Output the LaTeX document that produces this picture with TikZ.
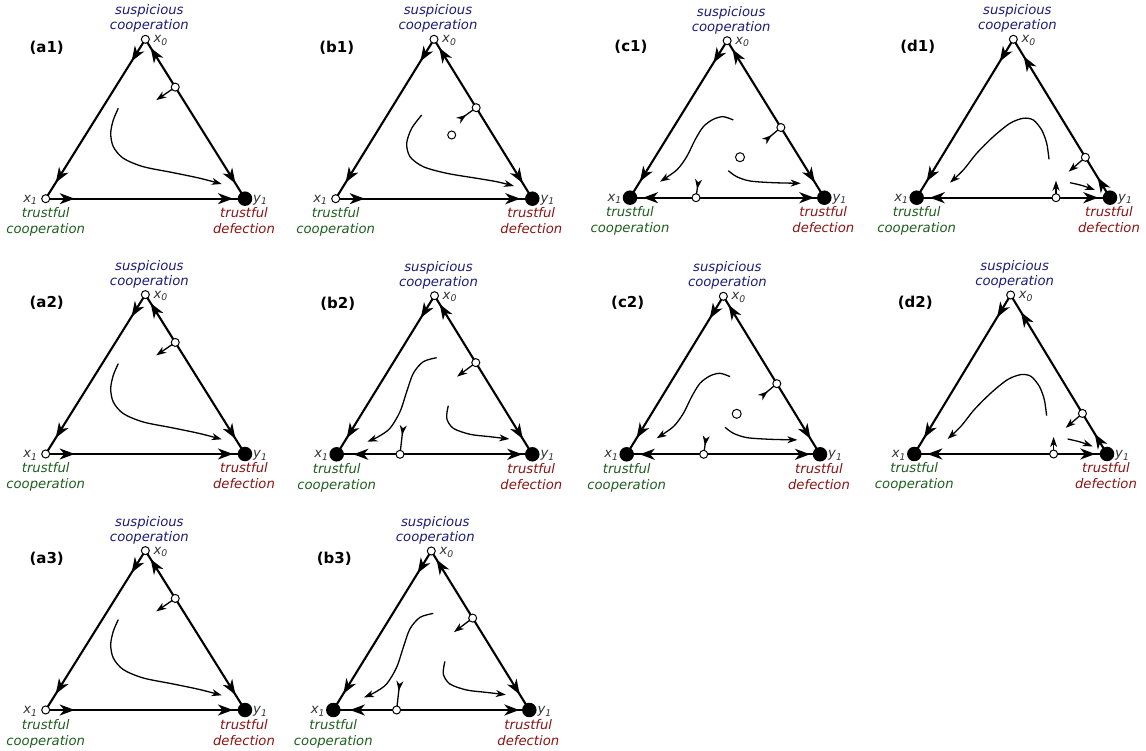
\documentclass[tikz,border=0pt]{standalone}
\usepackage{fontspec}
\setmainfont{DejaVu Sans}
\usetikzlibrary{arrows.meta,calc,decorations.markings}

\definecolor{suscol}{RGB}{28,28,120}
\definecolor{coopcol}{RGB}{30,95,30}
\definecolor{defcol}{RGB}{140,20,20}

\tikzset{
  Big/.tip={Stealth[length=15pt,width=11pt,inset=4.5pt]},
  Small/.tip={Stealth[length=10pt,width=7pt,inset=3pt]},
  SmallRev/.tip={Stealth[length=10pt,width=7pt,inset=3pt,reversed]},
  rim/.style={line width=2.1pt},
  onemark/.style={postaction={decorate,decoration={markings,
      mark=at position #1 with {\arrow{Big}}}}},
  twomarks/.style 2 args={postaction={decorate,decoration={markings,
      mark=at position #1 with {\arrow{Big}},
      mark=at position #2 with {\arrow{Big}}}}},
  outarrow/.style={line width=1.3pt,-{Small}},
  inarrow/.style={line width=1.3pt,-{SmallRev}},
  traj/.style={line width=1.3pt,-{Small}},
  unst/.style={circle,draw,fill=white,line width=1pt,minimum size=8pt,inner sep=0pt},
  stab/.style={circle,fill=black,minimum size=14.5pt,inner sep=0pt},
  txt/.style={inner sep=0pt,font=\fontsize{13.2}{15}\selectfont\itshape,anchor=base},
  tag/.style={inner sep=0pt,font=\fontsize{15}{17}\selectfont\bfseries},
  vlab/.style={inner sep=0pt,font=\fontsize{13.2}{15}\selectfont\itshape,text=black!80},
}

% simplex frame: corners, corner names and panel tag (#1 width, #2 height, #3 tag)
\newcommand\basetri[3]{%
  \coordinate (X1) at (0,0);
  \coordinate (Y1) at (#1,0);
  \coordinate (X0) at ({#1/2},#2);
  \node[tag] (tag) at (1,151) {#3};
  \node[txt,text=suscol] (sus) at ($(X0)+(4,24.3)$) {suspicious};
  \node[txt,text=suscol] (susc) at ($(X0)+(4,9.3)$) {cooperation};
  \node[txt,text=coopcol] (tc) at (0,-19) {trustful};
  \node[txt,text=coopcol] (tcc) at (0,-35) {cooperation};
  \node[txt,text=defcol] (td) at (#1-1,-19) {trustful};
  \node[txt,text=defcol] (tdd) at (#1-1,-35) {defection};
  \node[vlab,anchor=base west] (lx0) at ($(X0)+(8,-3.5)$) {x\textsubscript{0}};
  \node[vlab,anchor=base east] (lx1) at (-8,-3.5) {x\textsubscript{1}};
  \node[vlab,anchor=base west] (ly1) at (#1+8,-3.5) {y\textsubscript{1}};
  \draw[rim,twomarks={26pt}{-19pt}] (X0) -- (X1);
}

% only y1 stable
\newcommand\panelA[3]{%
  \basetri{#1}{#2}{#3}
  \coordinate (S) at ($(Y1)!0.70!(X0)$);
  \draw[rim,onemark={-10pt}] (S) -- (X0);
  \draw[rim,onemark={-18pt}] (S) -- (Y1);
  \draw[rim,twomarks={29pt}{-12pt}] (X1) -- (Y1);
  \coordinate (Sout) at ($(S)+(-19,-13)$);
  \draw[outarrow] (S) -- (Sout);
  \draw[traj] plot[smooth] coordinates {(72.6,90.4) (67.6,78.7) (65,65.4) (67.6,52)
     (77.6,40.4) (97.6,32) (127.6,26) (154.3,20.4) (176,14.7)};
  \node[unst] (p0) at (X0) {};
  \node[unst] (p1) at (X1) {};
  \node[stab] (q1) at (Y1) {};
  \node[unst] (s) at (S) {};
}

% y1 stable, interior source
\newcommand\panelB[3]{%
  \basetri{#1}{#2}{#3}
  \coordinate (S) at ($(Y1)!0.571!(X0)$);
  \draw[rim,onemark={-10pt}] (S) -- (X0);
  \draw[rim,onemark={-18pt}] (S) -- (Y1);
  \draw[rim,twomarks={29pt}{-12pt}] (X1) -- (Y1);
  \coordinate (Sin) at ($(S)+(-18,-13)$);
  \draw[inarrow] (S) -- (Sin);
  \draw[traj] plot[smooth] coordinates {(86,83.7) (76,70.4) (71,55.4) (74.3,42)
     (87.6,32) (111,25.4) (141,20.4) (161,17) (178.3,12.7)};
  \node[unst] (p0) at (X0) {};
  \node[unst] (p1) at (X1) {};
  \node[stab] (q1) at (Y1) {};
  \node[unst] (s) at (S) {};
  \node[unst] (c) at (116,63.7) {};
}

% x1 and y1 stable, no interior point
\newcommand\panelBB[3]{%
  \basetri{#1}{#2}{#3}
  \coordinate (S) at ($(Y1)!0.578!(X0)$);
  \coordinate (B) at (63.3,0);
  \draw[rim,onemark={-10pt}] (S) -- (X0);
  \draw[rim,onemark={-18pt}] (S) -- (Y1);
  \draw[rim,onemark={-16.6pt}] (B) -- (X1);
  \draw[rim,onemark={-10pt}] (B) -- (Y1);
  \coordinate (Sout) at ($(S)+(-18.7,-14)$);
  \draw[outarrow] (S) -- (Sout);
  \coordinate (Bin) at ($(B)+(3.3,29)$);
  \draw[inarrow] (B) -- (Bin);
  \draw[traj] plot[smooth] coordinates {(100,96.6) (86.6,92.6) (76.6,81) (70,62.6)
     (63.3,42.6) (53.3,26) (41.6,17.6) (30.6,12.6)};
  \draw[traj] plot[smooth] coordinates {(111.6,48.6) (110,36) (116.6,26) (133.3,20)
     (153.3,17.6) (172.6,15.3)};
  \node[unst] (p0) at (X0) {};
  \node[stab] (p1) at (X1) {};
  \node[stab] (q1) at (Y1) {};
  \node[unst] (s) at (S) {};
  \node[unst] (b) at (B) {};
}

% x1 and y1 stable, interior source (#4: bottom saddle position)
\newcommand\panelC[4]{%
  \basetri{#1}{#2}{#3}
  \coordinate (S) at ($(Y1)!0.447!(X0)$);
  \coordinate (B) at (#4,0);
  \draw[rim,onemark={-10pt}] (S) -- (X0);
  \draw[rim,onemark={-18pt}] (S) -- (Y1);
  \draw[rim,onemark={-13pt}] (B) -- (X1);
  \draw[rim,onemark={-10pt}] (B) -- (Y1);
  \coordinate (Sin) at ($(S)+(-16.7,-14)$);
  \draw[inarrow] (S) -- (Sin);
  \coordinate (Bin) at ($(B)+(2.6,18.4)$);
  \draw[inarrow] (B) -- (Bin);
  \draw[traj] plot[smooth] coordinates {(103.3,77.7) (93.3,81) (83.3,78.4) (73.3,71)
     (65,57.7) (56.7,41) (46.7,27.7) (30,16)};
  \draw[traj] plot[smooth] coordinates {(98.3,27) (106.7,21) (120,16.7) (143.3,15)
     (170.7,14.4)};
  \node[unst] (p0) at (X0) {};
  \node[stab] (p1) at (X1) {};
  \node[stab] (q1) at (Y1) {};
  \node[unst] (s) at (S) {};
  \node[unst] (b) at (B) {};
  \node[unst,minimum size=9pt] (c) at (110,40.5) {};
}

% x1 and y1 stable, edge points near y1
\newcommand\panelD[3]{%
  \basetri{#1}{#2}{#3}
  \coordinate (S) at ($(Y1)!0.255!(X0)$);
  \coordinate (B) at (139.3,0);
  \draw[rim,onemark={-20pt}] (S) -- (X0);
  \draw[rim,onemark={23.6pt}] (Y1) -- (S);
  \draw[rim,onemark={-13pt}] (B) -- (X1);
  \draw[rim,onemark={-11.7pt}] (B) -- (Y1);
  \coordinate (Sout) at ($(S)+(-16.7,-14.4)$);
  \draw[outarrow] (S) -- (Sout);
  \coordinate (Bout) at ($(B)+(0,17)$);
  \draw[outarrow] (B) -- (Bout);
  \draw[traj] plot[smooth] coordinates {(132.3,38.4) (130,54.4) (125,67.7) (116.6,77.7)
     (106.6,79.4) (93.3,74.4) (76.6,61) (60,44.4) (46.6,27.7) (33.3,15)};
  \draw[traj] plot[smooth] coordinates {(153.3,15) (165.3,12.2) (178.3,7.7)};
  \node[unst] (p0) at (X0) {};
  \node[stab] (p1) at (X1) {};
  \node[stab] (q1) at (Y1) {};
  \node[unst] (s) at (S) {};
  \node[unst] (b) at (B) {};
}

\begin{document}
\begin{tikzpicture}[x=1pt,y=1pt]
  \useasboundingbox (0,0) rectangle (1146,750);
  \fill[white] (0,0) rectangle (1146,750);

  \begin{scope}[shift={(45.7,551.3)},name prefix=a1-] \panelA{199.3}{159.4}{(a1)} \end{scope}
  \begin{scope}[shift={(335.7,551.3)},name prefix=b1-] \panelB{196.6}{159.4}{(b1)} \end{scope}
  \begin{scope}[shift={(630,552.3)},name prefix=c1-] \panelC{194.3}{157}{(c1)}{66} \end{scope}
  \begin{scope}[shift={(916.7,552.3)},name prefix=d1-] \panelD{193.3}{158.4}{(d1)} \end{scope}

  \begin{scope}[shift={(45.7,296)},name prefix=a2-] \panelA{199.3}{159.4}{(a2)} \end{scope}
  \begin{scope}[shift={(336.7,295.7)},name prefix=b2-] \panelBB{195.6}{158.6}{(b2)} \end{scope}
  \begin{scope}[shift={(626.7,295.7)},name prefix=c2-] \panelC{193.3}{158}{(c2)}{77} \end{scope}
  \begin{scope}[shift={(914.3,296)},name prefix=d2-] \panelD{192.7}{159}{(d2)} \end{scope}

  \begin{scope}[shift={(45.7,40)},name prefix=a3-] \panelA{199.3}{159.4}{(a3)} \end{scope}
  \begin{scope}[shift={(333.3,40)},name prefix=b3-] \panelBB{196}{159}{(b3)} \end{scope}
\end{tikzpicture}
\end{document}
